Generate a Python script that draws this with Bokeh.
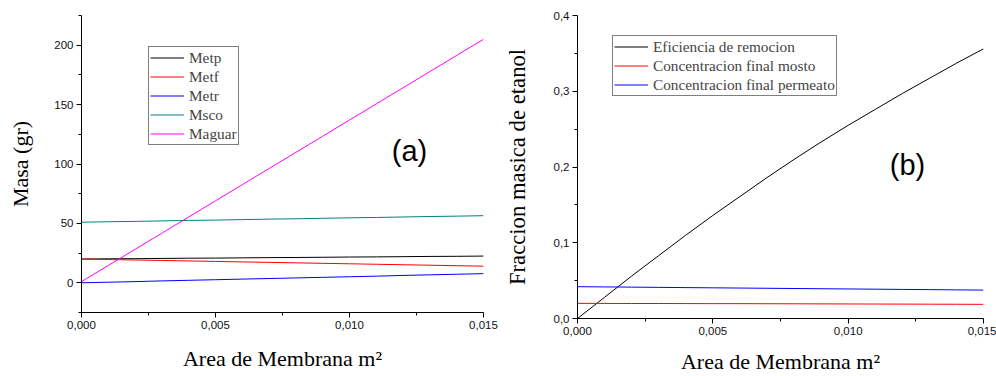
from bokeh.plotting import figure
from bokeh.layouts import row
from bokeh.models import FixedTicker, CustomJSTickFormatter, Legend, LegendItem, Label
from bokeh.embed import file_html
from bokeh.resources import INLINE

# ---------------- data ----------------
area = [0.000, 0.001, 0.002, 0.003, 0.004, 0.005, 0.006, 0.007,
        0.008, 0.009, 0.010, 0.011, 0.012, 0.013, 0.014, 0.015]

metp = [20.0, 20.2, 20.3, 20.5, 20.7, 20.8, 21.0, 21.2, 21.3, 21.5, 21.7, 21.8, 22.0, 22.2, 22.3, 22.5]
metf = [20.0, 19.6, 19.2, 18.8, 18.4, 18.0, 17.6, 17.2, 16.8, 16.4, 16.0, 15.6, 15.2, 14.8, 14.4, 14.0]
metr = [0.0, 0.5, 1.0, 1.6, 2.1, 2.6, 3.1, 3.6, 4.1, 4.6, 5.1, 5.6, 6.2, 6.7, 7.2, 7.7]
msco = [51.0, 51.4, 51.7, 52.1, 52.5, 52.8, 53.2, 53.6, 53.9, 54.3, 54.7, 55.0, 55.4, 55.8, 56.1, 56.5]
maguar = [1.0, 14.6, 28.2, 41.8, 55.4, 69.0, 82.6, 96.2, 109.8, 123.4, 137.0, 150.6, 164.2, 177.8, 191.4, 205.0]

eficiencia = [0.000, 0.028, 0.056, 0.083, 0.110, 0.136, 0.161, 0.186,
              0.210, 0.233, 0.255, 0.276, 0.297, 0.317, 0.337, 0.356]
conc_mosto = [0.0200, 0.0199, 0.0198, 0.0198, 0.0197, 0.0196, 0.0196, 0.0195,
              0.0194, 0.0193, 0.0192, 0.0191, 0.0190, 0.0189, 0.0188, 0.0187]
conc_permeato = [0.0420, 0.0417, 0.0414, 0.0411, 0.0408, 0.0405, 0.0402, 0.0399,
                 0.0396, 0.0393, 0.0390, 0.0387, 0.0384, 0.0381, 0.0378, 0.0375]

x_ticks = [0.0, 0.005, 0.010, 0.015]
x_minor = [0.0025, 0.0075, 0.0125]
ya_ticks = [0, 50, 100, 150, 200]
ya_minor = [-25, 25, 75, 125, 175, 225]
yb_ticks = [0.0, 0.1, 0.2, 0.3, 0.4]
yb_minor = [0.05, 0.15, 0.25, 0.35]

left_names = ["Metp", "Metf", "Metr", "Msco", "Maguar"]
left_colors = ["#000000", "#FF0000", "#0000FF", "#008080", "#FF00FF"]
right_names = ["Eficiencia de remocion", "Concentracion final mosto", "Concentracion final permeato"]
right_colors = ["#000000", "#FF0000", "#0000FF"]

SERIF = "Liberation Serif"
SANS = "Liberation Sans"


def style(p, yt, decimals_y):
    p.xgrid.visible = False
    p.ygrid.visible = False
    p.outline_line_color = None
    for ax in (p.xaxis[0], p.yaxis[0]):
        ax.axis_line_color = "black"
        ax.major_tick_line_color = "black"
        ax.minor_tick_line_color = "black"
        ax.major_tick_out = 5
        ax.major_tick_in = 0
        ax.minor_tick_out = 3
        ax.minor_tick_in = 0
        ax.major_label_standoff = 3
        ax.major_label_text_font = SANS
        ax.major_label_text_font_size = "11.5px"
        ax.major_label_text_color = "#111111"
        ax.axis_label_text_font = SERIF
        ax.axis_label_text_font_size = "22px"
        ax.axis_label_text_font_style = "normal"
        ax.axis_label_text_color = "black"
    p.xaxis[0].ticker = FixedTicker(ticks=x_ticks, minor_ticks=x_minor)
    p.xaxis[0].formatter = CustomJSTickFormatter(code="return tick.toFixed(3).replace('.', ',');")
    p.yaxis[0].ticker = FixedTicker(ticks=yt[0], minor_ticks=yt[1])
    p.yaxis[0].formatter = CustomJSTickFormatter(
        code="return tick.toFixed(%d).replace('.', ',');" % decimals_y)


def make_legend(items, loc):
    return Legend(items=items, location=loc, orientation="vertical",
                  label_text_font=SERIF, label_text_font_size="15.3px",
                  label_height=19, glyph_height=19, glyph_width=34, spacing=0,
                  padding=1, margin=0, label_standoff=5,
                  border_line_color="black", border_line_width=1,
                  background_fill_color="white", background_fill_alpha=1)


# ---------------- panel (a) ----------------
pa = figure(width=500, height=376, x_range=(0, 0.015), y_range=(-25, 225),
            output_backend="svg", toolbar_location=None, frame_align=False,
            min_border_left=81, min_border_right=17, min_border_top=15, min_border_bottom=64)
style(pa, (ya_ticks, ya_minor), 0)
pa.xaxis[0].axis_label = "Area de Membrana m\u00b2"
pa.yaxis[0].axis_label = "Masa (gr)"
pa.xaxis[0].axis_label_standoff = 14
pa.yaxis[0].axis_label_standoff = 18

items_a = []
for name, col, vals in zip(left_names, left_colors, [metp, metf, metr, msco, maguar]):
    r = pa.line(area, vals, line_color=col, line_width=1)
    items_a.append(LegendItem(label=name, renderers=[r]))
pa.add_layout(make_legend(items_a, (67, 167)), "center")
pa.add_layout(Label(x=0.01224, y=111, text="(a)", text_font=SANS, text_font_size="29px",
                    text_align="center", text_baseline="middle", text_color="black"))

# ---------------- panel (b) ----------------
pb = figure(width=496, height=376, x_range=(0, 0.015), y_range=(0, 0.4),
            output_backend="svg", toolbar_location=None, frame_align=False,
            min_border_left=77, min_border_right=13, min_border_top=15, min_border_bottom=58)
style(pb, (yb_ticks, yb_minor), 1)
pb.xaxis[0].axis_label = "Area de Membrana m\u00b2"
pb.yaxis[0].axis_label = "Fraccion masica de etanol"
pb.yaxis[0].axis_label_text_font_size = "22.7px"
pb.xaxis[0].axis_label_standoff = 11
pb.yaxis[0].axis_label_standoff = 21

items_b = []
for name, col, vals in zip(right_names, right_colors, [eficiencia, conc_mosto, conc_permeato]):
    r = pb.line(area, vals, line_color=col, line_width=1)
    items_b.append(LegendItem(label=name, renderers=[r]))
pb.add_layout(make_legend(items_b, (35, 222)), "center")
pb.add_layout(Label(x=0.01219, y=0.202, text="(b)", text_font=SANS, text_font_size="29px",
                    text_align="center", text_baseline="middle", text_color="black"))

layout = row(pa, pb)
open("out.html", "w").write(file_html(layout, INLINE))
